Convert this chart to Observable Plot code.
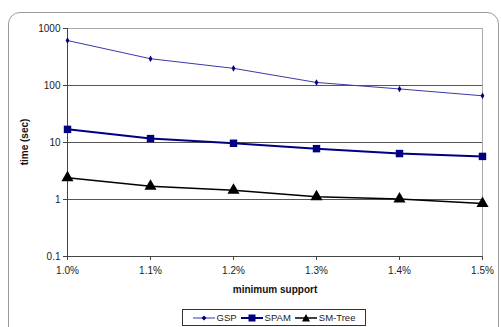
<!DOCTYPE html>
<html><head><meta charset="utf-8">
<script src="https://cdn.jsdelivr.net/npm/d3@7"></script>
<script src="https://cdn.jsdelivr.net/npm/@observablehq/plot@0.6"></script>
<style>
body{margin:0;background:#fff;font-family:"Liberation Sans",Arial,sans-serif;}
#wrap{position:relative;width:501px;height:327px;overflow:hidden;}
#frame{position:absolute;left:8px;top:12px;width:489px;height:330px;border:1px solid #9a9a9a;border-radius:12px;}
#legend{position:absolute;left:182px;top:309px;width:184px;height:17px;border:1px solid #333;box-sizing:border-box;display:flex;align-items:center;justify-content:center;gap:4px;font-size:9.5px;color:#222;}
#legend span{display:flex;align-items:center;gap:2px;}
#plot{position:absolute;left:0;top:0;}
</style></head>
<body>
<div id="wrap"><div id="frame"></div><div id="plot"></div><div id="legend"></div></div>
<script>
const categories = ["1.0%","1.1%","1.2%","1.3%","1.4%","1.5%"];
const gsp = [615, 295, 200, 113, 87, 66];
const spam = [17, 11.7, 9.7, 7.8, 6.4, 5.7];
const smtree = [2.4, 1.7, 1.45, 1.12, 1.02, 0.85];
const yTicks = [0.1, 1, 10, 100, 1000];
const seriesNames = ["GSP","SPAM","SM-Tree"];

const rows = (vals, s) => categories.map((c,i)=>({c, v: vals[i], s}));
const dGsp = rows(gsp,"GSP"), dSpam = rows(spam,"SPAM"), dTree = rows(smtree,"SM-Tree");

const chart = Plot.plot({
  width: 501, height: 305,
  marginLeft: 67, marginRight: 19, marginTop: 28, marginBottom: 49,
  style: {fontFamily: '"Liberation Sans", Arial, sans-serif', fontSize: "10px", color: "#222", background: "transparent"},
  x: {type: "point", domain: categories, padding: 0, label: null},
  y: {type: "log", domain: [0.1, 1000], ticks: yTicks, label: null},
  marks: [
    Plot.ruleY([1,10,100], {stroke: "#555", strokeWidth: 1}),
    Plot.ruleY([1000], {stroke: "#aaa", strokeWidth: 1}),
    Plot.ruleX([categories[categories.length-1]], {y1: 0.1, y2: 1000, stroke: "#aaa"}),
    Plot.ruleX([categories[0]], {y1: 0.1, y2: 1000, stroke: "#444"}),
    Plot.ruleY([0.1], {stroke: "#444"}),
    Plot.axisY({ticks: yTicks, tickFormat: d => String(d), tickSize: 4, tickPadding: 3, stroke:"#444", fill:"#222", fontSize: 10}),
    Plot.axisX({tickSize: 4, tickPadding: 6, stroke:"#444", fill:"#222", fontSize: 10}),
    Plot.line(dGsp, {x: "c", y: "v", stroke: "#3a3aa8", strokeWidth: 1}),
    Plot.dot(dGsp, {x: "c", y: "v", r: 2, fill: "#000080", symbol: "diamond"}),
    Plot.line(dSpam, {x: "c", y: "v", stroke: "#000080", strokeWidth: 2}),
    Plot.dot(dSpam, {x: "c", y: "v", r: 4.2, fill: "#000080", symbol: "square"}),
    Plot.line(dTree, {x: "c", y: "v", stroke: "#000", strokeWidth: 1.5}),
    Plot.dot(dTree, {x: "c", y: "v", r: 4.5, fill: "#000", symbol: "triangle"})
  ]
});
document.getElementById("plot").appendChild(chart);

// axis titles
const svg = d3.select(chart);
svg.append("text").attr("x", 275).attr("y", 293).attr("text-anchor","middle")
  .attr("font-weight","bold").attr("font-size",10).attr("fill","#111").text("minimum support");
svg.append("text").attr("transform","translate(28,142) rotate(-90)").attr("text-anchor","middle")
  .attr("font-weight","bold").attr("font-size",10).attr("fill","#111").text("time (sec)");

// legend
const leg = document.getElementById("legend");
const sym = {
  "GSP": '<svg width="22" height="8"><line x1="0" y1="4" x2="22" y2="4" stroke="#3a3aa8"/><path d="M11,1.5L13.5,4L11,6.5L8.5,4Z" fill="#000080"/></svg>',
  "SPAM": '<svg width="22" height="8"><line x1="0" y1="4" x2="22" y2="4" stroke="#000080" stroke-width="2"/><rect x="7.5" y="0.5" width="7" height="7" fill="#000080"/></svg>',
  "SM-Tree": '<svg width="22" height="8"><line x1="0" y1="4" x2="22" y2="4" stroke="#000" stroke-width="1.5"/><path d="M11,0L15,7.5L7,7.5Z" fill="#000"/></svg>'
};
seriesNames.forEach(n=>{
  const s = document.createElement("span");
  s.innerHTML = sym[n] + n;
  leg.appendChild(s);
});
</script>
</body></html>
